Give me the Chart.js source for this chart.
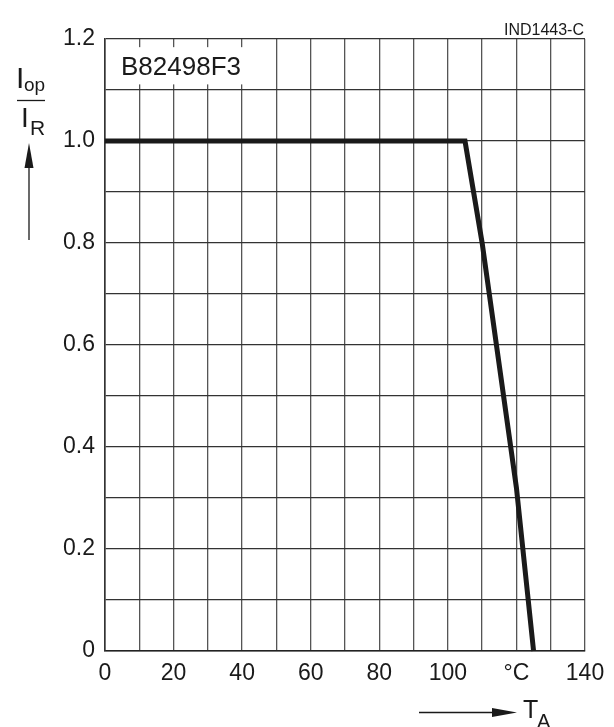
<!DOCTYPE html>
<html>
<head>
<meta charset="utf-8">
<script src="https://cdn.jsdelivr.net/npm/chart.js@4.4.1/dist/chart.umd.min.js"></script>
<style>
  html, body { margin: 0; padding: 0; background: #ffffff; }
  #wrap { position: relative; width: 614px; height: 727px; }
  canvas { display: block; }
</style>
</head>
<body>
<div id="wrap"><canvas id="c" width="614" height="727"></canvas></div>
<script>
// ---- data ----
const temperatures = [0, 105, 110, 120, 125];        // T_A in °C
const currentRatio = [1.0, 1.0, 0.8, 0.32, 0.0];      // I_op / I_R
const xTickLabels = { 0: '0', 20: '20', 40: '40', 60: '60', 80: '80', 100: '100', 120: '°C', 140: '140' };
const yTickLabels = { 0: '0', 2: '0.2', 4: '0.4', 6: '0.6', 8: '0.8', 10: '1.0', 12: '1.2' };
const partLabel = 'B82498F3';
const figureCode = 'IND1443-C';

const FONT = "'Liberation Sans', Arial, Helvetica, sans-serif";
const INK = '#1a1a1a';

const points = temperatures.map((t, i) => ({ x: t, y: currentRatio[i] }));

const overlay = {
  id: 'overlay',
  beforeDatasetsDraw(chart) {
    const { ctx, scales: { x, y } } = chart;
    // white label box covering the grid in the upper-left cell
    const x0 = x.getPixelForValue(0) + 1;
    const x1 = x.getPixelForValue(42.5);
    const yTop = y.getPixelForValue(1.184);
    const yBot = y.getPixelForValue(1.111);
    ctx.save();
    ctx.fillStyle = '#ffffff';
    ctx.fillRect(x0, yTop, x1 - x0, yBot - yTop);
    ctx.fillStyle = INK;
    ctx.font = '26px ' + FONT;
    ctx.textBaseline = 'alphabetic';
    ctx.textAlign = 'left';
    ctx.fillText(partLabel, x.getPixelForValue(0) + 16, y.getPixelForValue(1.111) - 9);
    ctx.restore();
  },
  afterDraw(chart) {
    const { ctx } = chart;
    ctx.save();
    ctx.fillStyle = INK;
    ctx.strokeStyle = INK;
    ctx.textBaseline = 'alphabetic';

    // figure code, top right
    ctx.font = '16px ' + FONT;
    ctx.textAlign = 'right';
    ctx.fillText(figureCode, 584, 35);

    // y-axis title: I_op / I_R with arrow
    ctx.textAlign = 'left';
    ctx.font = '30px ' + FONT;
    ctx.fillText('I', 16, 88);
    ctx.font = '19px ' + FONT;
    ctx.fillText('op', 24, 91);
    ctx.lineWidth = 1.3;
    ctx.beginPath();
    ctx.moveTo(17, 100.5);
    ctx.lineTo(45, 100.5);
    ctx.stroke();
    ctx.font = '28px ' + FONT;
    ctx.fillText('I', 21, 127);
    ctx.font = '21px ' + FONT;
    ctx.fillText('R', 30, 135);
    // arrow up
    ctx.lineWidth = 1.3;
    ctx.beginPath();
    ctx.moveTo(29, 240);
    ctx.lineTo(29, 165);
    ctx.stroke();
    ctx.beginPath();
    ctx.moveTo(29, 143);
    ctx.lineTo(33.5, 168);
    ctx.lineTo(24.5, 168);
    ctx.closePath();
    ctx.fill();

    // x-axis title: arrow -> T_A
    ctx.beginPath();
    ctx.moveTo(419, 712.5);
    ctx.lineTo(495, 712.5);
    ctx.stroke();
    ctx.beginPath();
    ctx.moveTo(517, 712.5);
    ctx.lineTo(492, 708);
    ctx.lineTo(492, 717);
    ctx.closePath();
    ctx.fill();
    ctx.font = '25px ' + FONT;
    ctx.fillText('T', 523, 718);
    ctx.font = '20px ' + FONT;
    ctx.fillText('A', 537, 728);
    ctx.restore();
  }
};

new Chart(document.getElementById('c'), {
  type: 'line',
  data: {
    datasets: [{
      data: points,
      borderColor: INK,
      borderWidth: 5,
      borderJoinStyle: 'miter',
      borderCapStyle: 'butt',
      pointRadius: 0,
      tension: 0,
      fill: false,
      clip: false
    }]
  },
  options: {
    responsive: false,
    animation: false,
    devicePixelRatio: 1,
    layout: { padding: { top: 39, right: 29, left: 0, bottom: 0 } },
    plugins: { legend: { display: false }, tooltip: { enabled: false }, title: { display: false } },
    scales: {
      x: {
        type: 'linear',
        min: 0, max: 140,
        afterFit(scale) { scale.height = 76; },
        ticks: {
          stepSize: 10,
          autoSkip: false,
          maxRotation: 0,
          padding: 9,
          color: INK,
          font: { family: FONT, size: 23 },
          callback: (v) => (xTickLabels[v] !== undefined ? xTickLabels[v] : '')
        },
        grid: { color: '#555555', lineWidth: 1.3, drawTicks: false },
        border: { display: true, color: '#222222', width: 1.6 }
      },
      y: {
        type: 'linear',
        min: 0, max: 1.2,
        afterFit(scale) { scale.width = 105; },
        ticks: {
          stepSize: 0.1,
          autoSkip: false,
          padding: 10,
          color: INK,
          font: { family: FONT, size: 23 },
          callback: (v) => {
            const k = Math.round(v * 10);
            return yTickLabels[k] !== undefined ? yTickLabels[k] : '';
          }
        },
        grid: { color: '#333333', lineWidth: 1.3, drawTicks: false },
        border: { display: true, color: '#333333', width: 1.6 }
      }
    }
  },
  plugins: [overlay]
});
</script>
</body>
</html>
